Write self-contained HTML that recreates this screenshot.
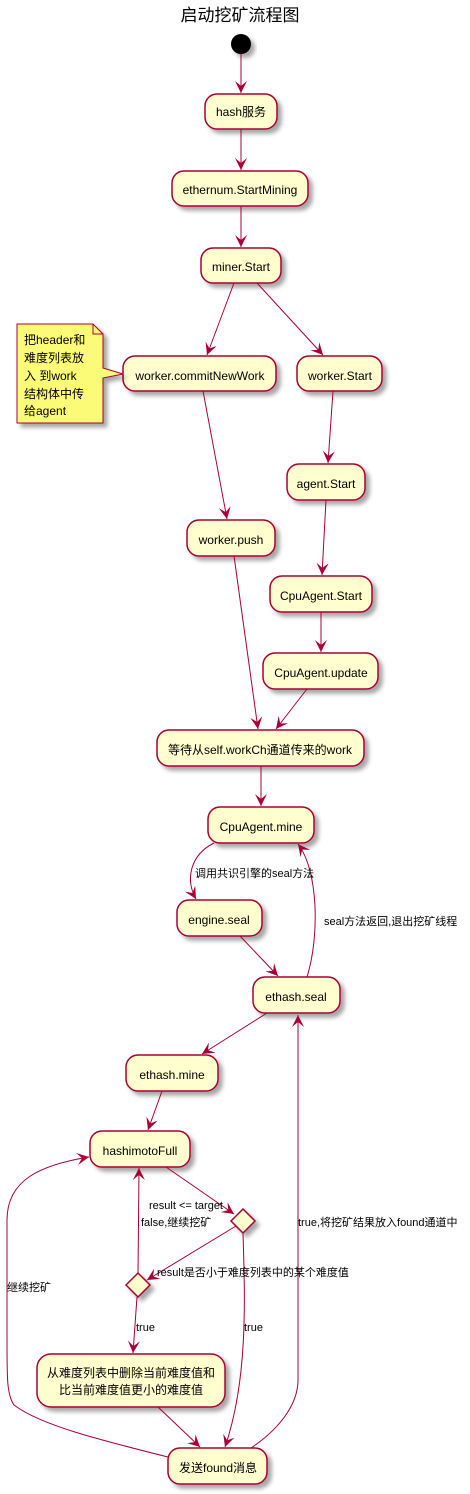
<!DOCTYPE html>
<html><head><meta charset="utf-8">
<style>
html,body{margin:0;padding:0;background:#fff;}
svg{display:block;}
text{font-family:"Liberation Sans","Noto Sans CJK SC",sans-serif;}
</style></head><body>
<svg width="470" height="1494" viewBox="0 0 470 1494" xmlns="http://www.w3.org/2000/svg">
<defs>
<filter id="sh" x="-20%" y="-20%" width="150%" height="160%">
<feGaussianBlur in="SourceAlpha" stdDeviation="2"/>
<feOffset dx="4" dy="4" result="b"/>
<feComponentTransfer><feFuncA type="linear" slope="0.35"/></feComponentTransfer>
<feMerge><feMergeNode/><feMergeNode in="SourceGraphic"/></feMerge>
</filter>
<marker id="a" markerWidth="14" markerHeight="14" refX="12" refY="6" orient="auto" markerUnits="userSpaceOnUse">
<path d="M0,0 L12,6 L0,12 L5,6 Z" fill="#A80036"/>
</marker>
</defs>
<text x="240" y="21" font-size="17" text-anchor="middle" fill="#000">启动挖矿流程图</text>
<circle cx="241" cy="44" r="10" fill="#000" filter="url(#sh)"/>

<g fill="#FEFECE" stroke="#A80036" stroke-width="1.5" filter="url(#sh)">
<rect x="205" y="94" width="72" height="35" rx="12"/>
<rect x="172" y="171" width="136" height="35" rx="12"/>
<rect x="201" y="248" width="80" height="35" rx="12"/>
<rect x="123" y="356" width="153" height="35" rx="12"/>
<rect x="297" y="356" width="85" height="35" rx="12"/>
<rect x="287" y="464" width="78" height="36" rx="12"/>
<rect x="187" y="520" width="88" height="36" rx="12"/>
<rect x="270" y="576" width="102" height="36" rx="12"/>
<rect x="263" y="653" width="115" height="36" rx="12"/>
<rect x="157" y="730" width="207" height="36" rx="12"/>
<rect x="208" y="807" width="106" height="36" rx="12"/>
<rect x="177" y="900" width="85" height="36" rx="12"/>
<rect x="253" y="977" width="87" height="36" rx="12"/>
<rect x="126" y="1055" width="92" height="36" rx="12"/>
<rect x="90" y="1131" width="100" height="36" rx="12"/>
<rect x="37" y="1354" width="188" height="53" rx="14"/>
<rect x="168" y="1448" width="99" height="36" rx="12"/>
<polygon points="243,1209 255,1221 243,1233 231,1221"/>
<polygon points="138,1273 150,1285 138,1297 126,1285"/>
</g>
<g filter="url(#sh)">
<path d="M17,324 L93,324 L103,334 L103,368 L123,374 L103,378 L103,423 L17,423 Z" fill="#FBFB77" stroke="#A80036" stroke-width="1"/>
<path d="M93,324 L93,334 L103,334" fill="none" stroke="#A80036" stroke-width="1"/>
</g>

<g font-size="12" fill="#000" text-anchor="middle">
<text x="241" y="116">hash服务</text>
<text x="240" y="194">ethernum.StartMining</text>
<text x="241" y="271">miner.Start</text>
<text x="200" y="380">worker.commitNewWork</text>
<text x="340" y="380">worker.Start</text>
<text x="326" y="488">agent.Start</text>
<text x="231" y="544">worker.push</text>
<text x="321" y="600">CpuAgent.Start</text>
<text x="321" y="677">CpuAgent.update</text>
<text x="260" y="754">等待从self.workCh通道传来的work</text>
<text x="261" y="831">CpuAgent.mine</text>
<text x="219" y="924">engine.seal</text>
<text x="296" y="1001">ethash.seal</text>
<text x="172" y="1079">ethash.mine</text>
<text x="140" y="1155">hashimotoFull</text>
<text x="131" y="1377">从难度列表中删除当前难度值和</text>
<text x="131" y="1394">比当前难度值更小的难度值</text>
<text x="218" y="1472">发送found消息</text>
</g>
<g font-size="12" fill="#000">
<text x="24" y="344">把header和</text>
<text x="24" y="362">难度列表放</text>
<text x="24" y="380">入 到work</text>
<text x="24" y="398">结构体中传</text>
<text x="24" y="415">给agent</text>
</g>

<g stroke="#A80036" stroke-width="1" fill="none" marker-end="url(#a)">
<path d="M241,54 L241,93"/>
<path d="M241,129 L241,170"/>
<path d="M241,206 L241,247"/>
<path d="M234,283 L207,355"/>
<path d="M257,283 L323,355"/>
<path d="M203,391 L227,519"/>
<path d="M333,391 L328,463"/>
<path d="M326,500 L322,575"/>
<path d="M321,612 L321,652"/>
<path d="M234,556 L258,729"/>
<path d="M307,689 L276,729"/>
<path d="M261,766 L261,806"/>
<path d="M214,843 C190,855 185,880 196,899"/>
<path d="M240,936 L278,976"/>
<path d="M307,977 C320,935 318,870 298,844"/>
<path d="M267,1013 L202,1054"/>
<path d="M162,1091 L148,1130"/>
<path d="M166,1167 L234,1214"/>
<path d="M236,1226 L147,1280"/>
<path d="M138,1273 L139,1168"/>
<path d="M243,1233 C245,1300 248,1380 225,1447"/>
<path d="M137,1297 L133,1353"/>
<path d="M158,1407 L200,1447"/>
<path d="M168,1457 C100,1440 40,1425 14,1405 C7,1395 7,1380 7,1340 L7,1220 C7,1180 40,1165 89,1157"/>
<path d="M251,1448 C285,1425 298,1400 298,1380 L298,1015"/>
</g>

<g font-size="11" fill="#000">
<text x="195" y="877">调用共识引擎的seal方法</text>
<text x="324" y="925">seal方法返回,退出挖矿线程</text>
<text x="149" y="1209">result &lt;= target</text>
<text x="141" y="1226">false,继续挖矿</text>
<text x="298" y="1226">true,将挖矿结果放入found通道中</text>
<text x="157" y="1276">result是否小于难度列表中的某个难度值</text>
<text x="7" y="1291">继续挖矿</text>
<text x="136" y="1331">true</text>
<text x="244" y="1331">true</text>
</g>
</svg>
</body></html>
